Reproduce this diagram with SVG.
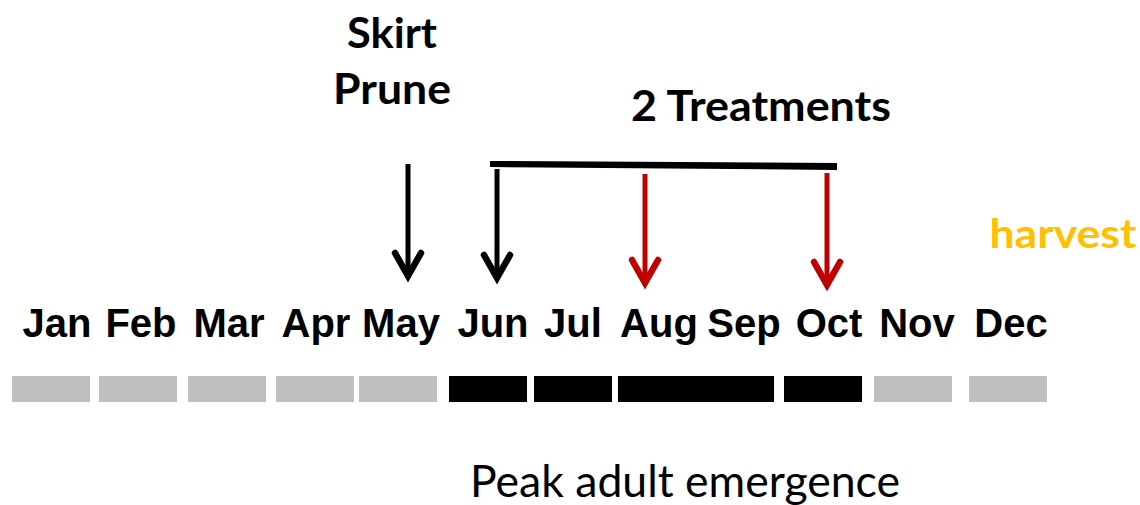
<svg xmlns="http://www.w3.org/2000/svg" width="1140" height="505" viewBox="0 0 1140 505">
<defs>
<style>
.m{font-family:"Liberation Sans",Arial,sans-serif;font-weight:bold;font-size:40px;fill:#000;text-anchor:middle}
.c{font-family:Lato,"Open Sans",sans-serif;font-weight:bold;text-anchor:middle}
.g{fill:#BFBFBF}
.k{fill:#000}
.sh{fill:none;stroke-width:5;stroke-linecap:butt}
.hd{fill:none;stroke-width:6.5;stroke-linecap:round;stroke-linejoin:miter}
</style>
</defs>
<rect width="1140" height="505" fill="#fff"/>
<g id="labels">
<text id="skirt" class="c" x="392" y="48" font-size="42" textLength="90" lengthAdjust="spacingAndGlyphs">Skirt</text>
<text id="prune" class="c" x="392" y="104" font-size="42" textLength="118" lengthAdjust="spacingAndGlyphs">Prune</text>
<text id="treat" class="c" x="761" y="121" font-size="42" textLength="260" lengthAdjust="spacingAndGlyphs">2 Treatments</text>
<text id="harvest" class="c" x="1063" y="248" font-size="41" fill="#FFC000" textLength="147" lengthAdjust="spacingAndGlyphs">harvest</text>
<text id="peak" x="685" y="497" font-family="Lato,'Open Sans',sans-serif" font-size="44" text-anchor="middle" textLength="430" lengthAdjust="spacingAndGlyphs">Peak adult emergence</text>
</g>
<g id="months">
<text class="m" x="57" y="337">Jan</text>
<text class="m" x="141" y="337">Feb</text>
<text class="m" x="229" y="337">Mar</text>
<text class="m" x="316" y="337">Apr</text>
<text class="m" x="401" y="337">May</text>
<text class="m" x="493" y="337">Jun</text>
<text class="m" x="573" y="337">Jul</text>
<text class="m" x="659" y="337">Aug</text>
<text class="m" x="744" y="337">Sep</text>
<text class="m" x="829" y="337">Oct</text>
<text class="m" x="917" y="337">Nov</text>
<text class="m" x="1011" y="337">Dec</text>
</g>
<g id="bars">
<rect class="g" x="12" y="376" width="78" height="26"/>
<rect class="g" x="99" y="376" width="78" height="26"/>
<rect class="g" x="188" y="376" width="78" height="26"/>
<rect class="g" x="276" y="376" width="78" height="26"/>
<rect class="g" x="359" y="376" width="78" height="26"/>
<rect class="k" x="449" y="376" width="78" height="26"/>
<rect class="k" x="534" y="376" width="78" height="26"/>
<rect class="k" x="618" y="376" width="156" height="26"/>
<rect class="k" x="784" y="376" width="78" height="26"/>
<rect class="g" x="874" y="376" width="78" height="26"/>
<rect class="g" x="969" y="376" width="78" height="26"/>
</g>
<g id="connectors">
<polygon points="490,161 837,163 837,170 490,167" fill="#000"/>
<g stroke="#000">
<line class="sh" x1="408" y1="164" x2="408" y2="275"/>
<polyline class="hd" points="395,253 408,276 421,253"/>
<line class="sh" x1="497" y1="169" x2="497" y2="277"/>
<polyline class="hd" points="484,255 497,278 510,255"/>
</g>
<g stroke="#C00000">
<line class="sh" x1="645" y1="174" x2="645" y2="282"/>
<polyline class="hd" points="632,260 645,283 658,260"/>
<line class="sh" x1="827" y1="173" x2="827" y2="284"/>
<polyline class="hd" points="814,262 827,285 840,262"/>
</g>
</g>
</svg>
